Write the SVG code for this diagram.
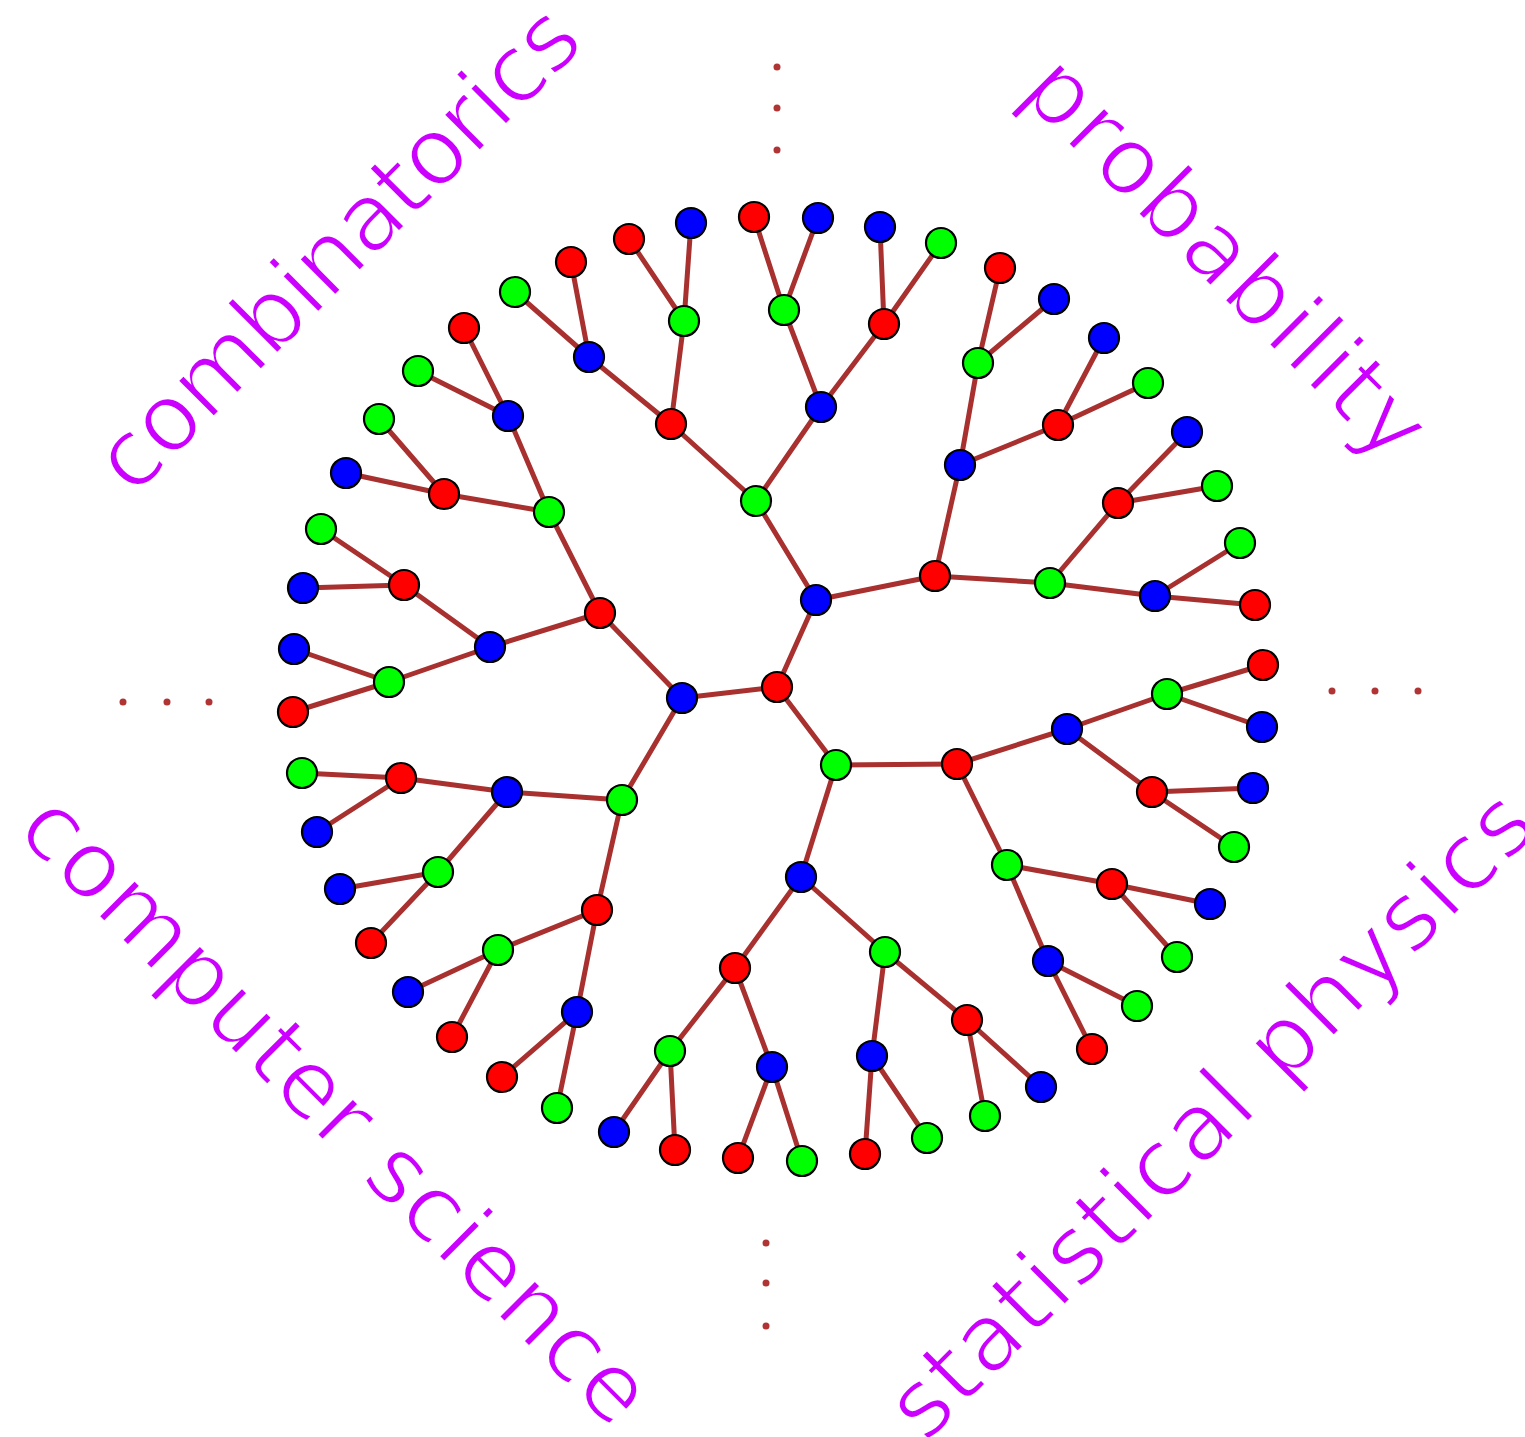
<svg xmlns="http://www.w3.org/2000/svg" width="1525" height="1437" viewBox="0 0 1525 1437">
<style>
.e{stroke:#a8302e;stroke-width:5;stroke-linecap:round}
.n{stroke:#000;stroke-width:2.2}
.r{fill:#ff0000}.g{fill:#00ff00}.b{fill:#0000ff}
.d{fill:#b03434}
.t{font-family:"DejaVu Sans",sans-serif;font-size:94px;fill:#cc00ff;stroke:#fff;stroke-width:2.6}
</style>
<rect width="1525" height="1437" fill="#fff"/>
<g id="labels">
<text class="t" text-anchor="middle" textLength="642" transform="translate(360,271) rotate(-45)">combinatorics</text>
<text class="t" text-anchor="middle" textLength="527" transform="translate(1204,280) rotate(45)">probability</text>
<text class="t" text-anchor="middle" textLength="847" transform="translate(313.5,1131.5) rotate(45)">computer science</text>
<text class="t" text-anchor="middle" textLength="870" transform="translate(1233,1137) rotate(-45)">statistical physics</text>
</g>
<g id="dots">
<circle class="d" cx="777" cy="67" r="3.5"/><circle class="d" cx="777" cy="108" r="3.5"/><circle class="d" cx="777" cy="150" r="3.5"/>
<circle class="d" cx="123" cy="702" r="3.5"/><circle class="d" cx="167" cy="702" r="3.5"/><circle class="d" cx="209" cy="702" r="3.5"/>
<circle class="d" cx="1332" cy="691" r="3.5"/><circle class="d" cx="1375" cy="691" r="3.5"/><circle class="d" cx="1418" cy="691" r="3.5"/>
<circle class="d" cx="766" cy="1243" r="3.5"/><circle class="d" cx="766" cy="1283" r="3.5"/><circle class="d" cx="766" cy="1326" r="3.5"/>
</g>
<g id="connectors">
<line class="e" x1="682" y1="698" x2="777" y2="687"/>
<line class="e" x1="682" y1="698" x2="600" y2="613"/>
<line class="e" x1="682" y1="698" x2="622" y2="800"/>
<line class="e" x1="777" y1="687" x2="816" y2="600"/>
<line class="e" x1="777" y1="687" x2="836" y2="765"/>
<line class="e" x1="600" y1="613" x2="549" y2="512"/>
<line class="e" x1="600" y1="613" x2="490" y2="647"/>
<line class="e" x1="549" y1="512" x2="508" y2="416"/>
<line class="e" x1="549" y1="512" x2="444" y2="494"/>
<line class="e" x1="508" y1="416" x2="464" y2="328"/>
<line class="e" x1="508" y1="416" x2="418" y2="371"/>
<line class="e" x1="444" y1="494" x2="379" y2="419"/>
<line class="e" x1="444" y1="494" x2="346" y2="473"/>
<line class="e" x1="490" y1="647" x2="404" y2="585"/>
<line class="e" x1="490" y1="647" x2="389" y2="682"/>
<line class="e" x1="404" y1="585" x2="321" y2="529"/>
<line class="e" x1="404" y1="585" x2="303" y2="588"/>
<line class="e" x1="389" y1="682" x2="294" y2="649"/>
<line class="e" x1="389" y1="682" x2="293" y2="712"/>
<line class="e" x1="622" y1="800" x2="507" y2="792"/>
<line class="e" x1="622" y1="800" x2="597" y2="910"/>
<line class="e" x1="507" y1="792" x2="401" y2="778"/>
<line class="e" x1="507" y1="792" x2="438" y2="872"/>
<line class="e" x1="401" y1="778" x2="302" y2="773"/>
<line class="e" x1="401" y1="778" x2="317" y2="832"/>
<line class="e" x1="438" y1="872" x2="340" y2="889"/>
<line class="e" x1="438" y1="872" x2="371" y2="943"/>
<line class="e" x1="597" y1="910" x2="498" y2="950"/>
<line class="e" x1="597" y1="910" x2="577" y2="1012"/>
<line class="e" x1="498" y1="950" x2="408" y2="992"/>
<line class="e" x1="498" y1="950" x2="452" y2="1037"/>
<line class="e" x1="577" y1="1012" x2="502" y2="1077"/>
<line class="e" x1="577" y1="1012" x2="557" y2="1108"/>
<line class="e" x1="816" y1="600" x2="756" y2="501"/>
<line class="e" x1="816" y1="600" x2="935" y2="576"/>
<line class="e" x1="756" y1="501" x2="671" y2="424"/>
<line class="e" x1="756" y1="501" x2="821" y2="407"/>
<line class="e" x1="671" y1="424" x2="589" y2="357"/>
<line class="e" x1="671" y1="424" x2="684" y2="321"/>
<line class="e" x1="589" y1="357" x2="515" y2="292"/>
<line class="e" x1="589" y1="357" x2="571" y2="262"/>
<line class="e" x1="684" y1="321" x2="629" y2="239"/>
<line class="e" x1="684" y1="321" x2="691" y2="223"/>
<line class="e" x1="821" y1="407" x2="784" y2="310"/>
<line class="e" x1="821" y1="407" x2="884" y2="324"/>
<line class="e" x1="784" y1="310" x2="754" y2="217"/>
<line class="e" x1="784" y1="310" x2="818" y2="218"/>
<line class="e" x1="884" y1="324" x2="880" y2="227"/>
<line class="e" x1="884" y1="324" x2="941" y2="243"/>
<line class="e" x1="935" y1="576" x2="960" y2="465"/>
<line class="e" x1="935" y1="576" x2="1050" y2="583"/>
<line class="e" x1="960" y1="465" x2="978" y2="363"/>
<line class="e" x1="960" y1="465" x2="1058" y2="425"/>
<line class="e" x1="978" y1="363" x2="1000" y2="268"/>
<line class="e" x1="978" y1="363" x2="1054" y2="299"/>
<line class="e" x1="1058" y1="425" x2="1104" y2="338"/>
<line class="e" x1="1058" y1="425" x2="1148" y2="383"/>
<line class="e" x1="1050" y1="583" x2="1118" y2="503"/>
<line class="e" x1="1050" y1="583" x2="1155" y2="596"/>
<line class="e" x1="1118" y1="503" x2="1187" y2="432"/>
<line class="e" x1="1118" y1="503" x2="1217" y2="486"/>
<line class="e" x1="1155" y1="596" x2="1240" y2="543"/>
<line class="e" x1="1155" y1="596" x2="1255" y2="605"/>
<line class="e" x1="836" y1="765" x2="957" y2="764"/>
<line class="e" x1="836" y1="765" x2="801" y2="877"/>
<line class="e" x1="957" y1="764" x2="1067" y2="729"/>
<line class="e" x1="957" y1="764" x2="1007" y2="865"/>
<line class="e" x1="1067" y1="729" x2="1167" y2="694"/>
<line class="e" x1="1067" y1="729" x2="1152" y2="792"/>
<line class="e" x1="1167" y1="694" x2="1263" y2="665"/>
<line class="e" x1="1167" y1="694" x2="1262" y2="727"/>
<line class="e" x1="1152" y1="792" x2="1253" y2="788"/>
<line class="e" x1="1152" y1="792" x2="1234" y2="847"/>
<line class="e" x1="1007" y1="865" x2="1112" y2="884"/>
<line class="e" x1="1007" y1="865" x2="1048" y2="961"/>
<line class="e" x1="1112" y1="884" x2="1210" y2="904"/>
<line class="e" x1="1112" y1="884" x2="1177" y2="957"/>
<line class="e" x1="1048" y1="961" x2="1137" y2="1006"/>
<line class="e" x1="1048" y1="961" x2="1092" y2="1049"/>
<line class="e" x1="801" y1="877" x2="735" y2="968"/>
<line class="e" x1="801" y1="877" x2="885" y2="952"/>
<line class="e" x1="735" y1="968" x2="670" y2="1051"/>
<line class="e" x1="735" y1="968" x2="772" y2="1067"/>
<line class="e" x1="670" y1="1051" x2="614" y2="1132"/>
<line class="e" x1="670" y1="1051" x2="675" y2="1150"/>
<line class="e" x1="772" y1="1067" x2="738" y2="1158"/>
<line class="e" x1="772" y1="1067" x2="802" y2="1161"/>
<line class="e" x1="885" y1="952" x2="872" y2="1056"/>
<line class="e" x1="885" y1="952" x2="967" y2="1020"/>
<line class="e" x1="872" y1="1056" x2="865" y2="1154"/>
<line class="e" x1="872" y1="1056" x2="927" y2="1138"/>
<line class="e" x1="967" y1="1020" x2="985" y2="1116"/>
<line class="e" x1="967" y1="1020" x2="1041" y2="1087"/>
</g>
<g id="nodes">
<g id="n0"><circle class="n b" cx="682" cy="698" r="15"/></g>
<g id="n1"><circle class="n r" cx="777" cy="687" r="15"/></g>
<g id="n2"><circle class="n r" cx="600" cy="613" r="15"/></g>
<g id="n3"><circle class="n g" cx="622" cy="800" r="15"/></g>
<g id="n4"><circle class="n b" cx="816" cy="600" r="15"/></g>
<g id="n5"><circle class="n g" cx="836" cy="765" r="15"/></g>
<g id="n6"><circle class="n g" cx="549" cy="512" r="15"/></g>
<g id="n7"><circle class="n b" cx="490" cy="647" r="15"/></g>
<g id="n8"><circle class="n b" cx="508" cy="416" r="15"/></g>
<g id="n9"><circle class="n r" cx="444" cy="494" r="15"/></g>
<g id="n10"><circle class="n r" cx="464" cy="328" r="15"/></g>
<g id="n11"><circle class="n g" cx="418" cy="371" r="15"/></g>
<g id="n12"><circle class="n g" cx="379" cy="419" r="15"/></g>
<g id="n13"><circle class="n b" cx="346" cy="473" r="15"/></g>
<g id="n14"><circle class="n r" cx="404" cy="585" r="15"/></g>
<g id="n15"><circle class="n g" cx="389" cy="682" r="15"/></g>
<g id="n16"><circle class="n g" cx="321" cy="529" r="15"/></g>
<g id="n17"><circle class="n b" cx="303" cy="588" r="15"/></g>
<g id="n18"><circle class="n b" cx="294" cy="649" r="15"/></g>
<g id="n19"><circle class="n r" cx="293" cy="712" r="15"/></g>
<g id="n20"><circle class="n b" cx="507" cy="792" r="15"/></g>
<g id="n21"><circle class="n r" cx="597" cy="910" r="15"/></g>
<g id="n22"><circle class="n r" cx="401" cy="778" r="15"/></g>
<g id="n23"><circle class="n g" cx="438" cy="872" r="15"/></g>
<g id="n24"><circle class="n g" cx="302" cy="773" r="15"/></g>
<g id="n25"><circle class="n b" cx="317" cy="832" r="15"/></g>
<g id="n26"><circle class="n b" cx="340" cy="889" r="15"/></g>
<g id="n27"><circle class="n r" cx="371" cy="943" r="15"/></g>
<g id="n28"><circle class="n g" cx="498" cy="950" r="15"/></g>
<g id="n29"><circle class="n b" cx="577" cy="1012" r="15"/></g>
<g id="n30"><circle class="n b" cx="408" cy="992" r="15"/></g>
<g id="n31"><circle class="n r" cx="452" cy="1037" r="15"/></g>
<g id="n32"><circle class="n r" cx="502" cy="1077" r="15"/></g>
<g id="n33"><circle class="n g" cx="557" cy="1108" r="15"/></g>
<g id="n34"><circle class="n g" cx="756" cy="501" r="15"/></g>
<g id="n35"><circle class="n r" cx="935" cy="576" r="15"/></g>
<g id="n36"><circle class="n r" cx="671" cy="424" r="15"/></g>
<g id="n37"><circle class="n b" cx="821" cy="407" r="15"/></g>
<g id="n38"><circle class="n b" cx="589" cy="357" r="15"/></g>
<g id="n39"><circle class="n g" cx="684" cy="321" r="15"/></g>
<g id="n40"><circle class="n g" cx="515" cy="292" r="15"/></g>
<g id="n41"><circle class="n r" cx="571" cy="262" r="15"/></g>
<g id="n42"><circle class="n r" cx="629" cy="239" r="15"/></g>
<g id="n43"><circle class="n b" cx="691" cy="223" r="15"/></g>
<g id="n44"><circle class="n g" cx="784" cy="310" r="15"/></g>
<g id="n45"><circle class="n r" cx="884" cy="324" r="15"/></g>
<g id="n46"><circle class="n r" cx="754" cy="217" r="15"/></g>
<g id="n47"><circle class="n b" cx="818" cy="218" r="15"/></g>
<g id="n48"><circle class="n b" cx="880" cy="227" r="15"/></g>
<g id="n49"><circle class="n g" cx="941" cy="243" r="15"/></g>
<g id="n50"><circle class="n b" cx="960" cy="465" r="15"/></g>
<g id="n51"><circle class="n g" cx="1050" cy="583" r="15"/></g>
<g id="n52"><circle class="n g" cx="978" cy="363" r="15"/></g>
<g id="n53"><circle class="n r" cx="1058" cy="425" r="15"/></g>
<g id="n54"><circle class="n r" cx="1000" cy="268" r="15"/></g>
<g id="n55"><circle class="n b" cx="1054" cy="299" r="15"/></g>
<g id="n56"><circle class="n b" cx="1104" cy="338" r="15"/></g>
<g id="n57"><circle class="n g" cx="1148" cy="383" r="15"/></g>
<g id="n58"><circle class="n r" cx="1118" cy="503" r="15"/></g>
<g id="n59"><circle class="n b" cx="1155" cy="596" r="15"/></g>
<g id="n60"><circle class="n b" cx="1187" cy="432" r="15"/></g>
<g id="n61"><circle class="n g" cx="1217" cy="486" r="15"/></g>
<g id="n62"><circle class="n g" cx="1240" cy="543" r="15"/></g>
<g id="n63"><circle class="n r" cx="1255" cy="605" r="15"/></g>
<g id="n64"><circle class="n r" cx="957" cy="764" r="15"/></g>
<g id="n65"><circle class="n b" cx="801" cy="877" r="15"/></g>
<g id="n66"><circle class="n b" cx="1067" cy="729" r="15"/></g>
<g id="n67"><circle class="n g" cx="1007" cy="865" r="15"/></g>
<g id="n68"><circle class="n g" cx="1167" cy="694" r="15"/></g>
<g id="n69"><circle class="n r" cx="1152" cy="792" r="15"/></g>
<g id="n70"><circle class="n r" cx="1263" cy="665" r="15"/></g>
<g id="n71"><circle class="n b" cx="1262" cy="727" r="15"/></g>
<g id="n72"><circle class="n b" cx="1253" cy="788" r="15"/></g>
<g id="n73"><circle class="n g" cx="1234" cy="847" r="15"/></g>
<g id="n74"><circle class="n r" cx="1112" cy="884" r="15"/></g>
<g id="n75"><circle class="n b" cx="1048" cy="961" r="15"/></g>
<g id="n76"><circle class="n b" cx="1210" cy="904" r="15"/></g>
<g id="n77"><circle class="n g" cx="1177" cy="957" r="15"/></g>
<g id="n78"><circle class="n g" cx="1137" cy="1006" r="15"/></g>
<g id="n79"><circle class="n r" cx="1092" cy="1049" r="15"/></g>
<g id="n80"><circle class="n r" cx="735" cy="968" r="15"/></g>
<g id="n81"><circle class="n g" cx="885" cy="952" r="15"/></g>
<g id="n82"><circle class="n g" cx="670" cy="1051" r="15"/></g>
<g id="n83"><circle class="n b" cx="772" cy="1067" r="15"/></g>
<g id="n84"><circle class="n b" cx="614" cy="1132" r="15"/></g>
<g id="n85"><circle class="n r" cx="675" cy="1150" r="15"/></g>
<g id="n86"><circle class="n r" cx="738" cy="1158" r="15"/></g>
<g id="n87"><circle class="n g" cx="802" cy="1161" r="15"/></g>
<g id="n88"><circle class="n b" cx="872" cy="1056" r="15"/></g>
<g id="n89"><circle class="n r" cx="967" cy="1020" r="15"/></g>
<g id="n90"><circle class="n r" cx="865" cy="1154" r="15"/></g>
<g id="n91"><circle class="n g" cx="927" cy="1138" r="15"/></g>
<g id="n92"><circle class="n g" cx="985" cy="1116" r="15"/></g>
<g id="n93"><circle class="n b" cx="1041" cy="1087" r="15"/></g>
</g>
</svg>
